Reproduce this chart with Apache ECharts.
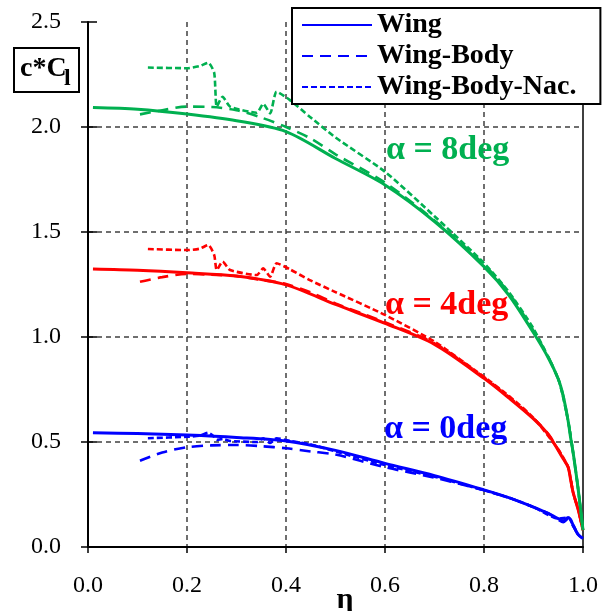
<!DOCTYPE html>
<html>
<head>
<meta charset="utf-8">
<style>
  html, body { margin: 0; padding: 0; background: #fff; }
  #chart { width: 610px; height: 611px; }
</style>
<script src="https://cdn.jsdelivr.net/npm/echarts@6.0.0/dist/echarts.min.js"></script>
</head>
<body>
<div id="chart"></div>
<script>
// spanwise station (eta) and c*Cl

// Wing (solid)
const etaWing = [0.01, 0.1, 0.2, 0.3, 0.4, 0.5, 0.6, 0.7, 0.8, 0.85, 0.9, 0.93, 0.95, 0.96, 0.97, 0.975, 0.98, 0.99, 1.0];
const wing0 = [0.544, 0.54, 0.533, 0.522, 0.505, 0.46, 0.398, 0.34, 0.272, 0.235, 0.19, 0.16, 0.135, 0.125, 0.14, 0.13, 0.105, 0.06, 0.04];
const wing4 = [1.324, 1.318, 1.306, 1.29, 1.248, 1.155, 1.065, 0.965, 0.803, 0.71, 0.61, 0.535, 0.46, 0.42, 0.38, 0.32, 0.26, 0.18, 0.08];
const wing8 = [2.093, 2.085, 2.062, 2.03, 1.978, 1.85, 1.724, 1.55, 1.335, 1.20, 1.02, 0.90, 0.80, 0.72, 0.60, 0.52, 0.45, 0.28, 0.08];

// Wing-Body (long dash)
const etaBody = [0.105, 0.15, 0.2, 0.25, 0.3, 0.35, 0.4, 0.45, 0.5, 0.6, 0.7, 0.8, 0.85, 0.9, 0.93, 0.95, 0.96, 0.97, 0.98, 0.99, 1.0];
const body0 = [0.411, 0.45, 0.475, 0.484, 0.486, 0.48, 0.47, 0.455, 0.44, 0.38, 0.33, 0.27, 0.235, 0.19, 0.16, 0.13, 0.118, 0.135, 0.10, 0.06, 0.04];
const body4 = [1.263, 1.285, 1.30, 1.297, 1.29, 1.272, 1.252, 1.212, 1.16, 1.07, 0.97, 0.808, 0.715, 0.613, 0.538, 0.463, 0.42, 0.38, 0.26, 0.18, 0.08];
const body8 = [2.06, 2.08, 2.097, 2.095, 2.08, 2.045, 2.0, 1.945, 1.87, 1.735, 1.555, 1.345, 1.21, 1.03, 0.905, 0.80, 0.72, 0.60, 0.45, 0.28, 0.08];

// Wing-Body-Nac. (short dash)
const etaNac = [0.121, 0.2, 0.225, 0.243, 0.255, 0.26, 0.272, 0.287, 0.341, 0.354, 0.368, 0.381, 0.408, 0.448, 0.5, 0.6, 0.7, 0.8, 0.85, 0.9, 0.95, 0.97, 0.98, 0.99, 1.0];
const nac0 = [0.518, 0.525, 0.53, 0.544, 0.525, 0.51, 0.515, 0.505, 0.50, 0.518, 0.495, 0.518, 0.505, 0.49, 0.455, 0.39, 0.335, 0.27, 0.235, 0.19, 0.135, 0.14, 0.105, 0.06, 0.04];
const nac4 = [1.419, 1.414, 1.42, 1.438, 1.39, 1.319, 1.359, 1.319, 1.295, 1.327, 1.287, 1.351, 1.322, 1.271, 1.214, 1.105, 0.978, 0.81, 0.72, 0.615, 0.465, 0.38, 0.26, 0.18, 0.08];
const nac8 = [2.283, 2.28, 2.29, 2.306, 2.257, 2.097, 2.144, 2.097, 2.068, 2.11, 2.065, 2.168, 2.128, 2.049, 1.95, 1.787, 1.575, 1.352, 1.215, 1.04, 0.80, 0.60, 0.45, 0.28, 0.08];

const legendNames = ['Wing', 'Wing-Body', 'Wing-Body-Nac.'];

const BLUE = '#0000FF', RED = '#FF0000', GREEN = '#00B050';
const FONT = 'Liberation Serif';
const LONG_DASH = [11, 7];
const SHORT_DASH = [6, 3];

function pairs(xs, ys) {
    return xs.map((x, i) => [x, ys[i]]);
}

function curve(name, xs, ys, color, type, smooth) {
    return {
        name: name,
        type: 'line',
        data: pairs(xs, ys),
        symbol: 'none',
        smooth: smooth,
        lineStyle: { color: color, width: type === 'solid' ? 3 : 2.6, type: type },
        itemStyle: { color: color },
        z: 3
    };
}

const chart = echarts.init(document.getElementById('chart'), null, { renderer: 'canvas' });

chart.setOption({
    backgroundColor: '#fff',
    animation: false,
    grid: { left: 88, right: 27, top: 22, bottom: 64 },
    legend: {
        data: legendNames,
        orient: 'vertical',
        left: 292, top: 8,
        itemWidth: 70, itemHeight: 14, itemGap: 3,
        padding: [3, 24, 3, 9],
        borderColor: '#000', borderWidth: 2,
        backgroundColor: '#fff',
        selectedMode: false,
        itemStyle: { opacity: 0 },
        textStyle: { fontFamily: FONT, fontWeight: 'bold', fontSize: 28, color: '#000' },
        z: 10
    },
    xAxis: [{
        type: 'value', min: 0, max: 1, interval: 0.2,
        axisLine: { lineStyle: { color: '#000', width: 2 } },
        axisTick: { show: true, length: 6, lineStyle: { color: '#000', width: 1.5 } },
        axisLabel: {
            margin: 27, color: '#000', fontFamily: FONT, fontSize: 24,
            formatter: v => v.toFixed(1)
        },
        splitLine: { show: true, showMinLine: false, showMaxLine: false, lineStyle: { color: '#404040', width: 1.5, type: [5, 4] } }
    }],
    yAxis: [{
        type: 'value', min: 0, max: 2.5, interval: 0.5,
        axisLine: { show: true, lineStyle: { color: '#000', width: 2 } },
        axisTick: { show: true, length: 7, lineStyle: { color: '#000', width: 1.5 } },
        axisLabel: {
            margin: 27, color: '#000', fontFamily: FONT, fontSize: 24,
            formatter: v => v.toFixed(1)
        },
        splitLine: { show: true, showMinLine: false, showMaxLine: false, lineStyle: { color: '#404040', width: 1.5, type: [5, 4] } }
    }, {
        // inner half of the crossing ticks
        type: 'value', min: 0, max: 2.5, interval: 0.5, position: 'left',
        axisLine: { show: false },
        axisTick: { show: true, inside: true, length: 9, lineStyle: { color: '#000', width: 1.5 } },
        axisLabel: { show: false },
        splitLine: { show: false }
    }, {
        // solid frame line at eta = 1
        type: 'value', min: 0, max: 2.5, interval: 0.5, position: 'right',
        axisLine: { show: true, lineStyle: { color: '#000', width: 1.5 } },
        axisTick: { show: false },
        axisLabel: { show: false },
        splitLine: { show: false }
    }],
    series: [
        curve('Wing', etaWing, wing0, BLUE, 'solid', 0.3),
        curve('Wing-Body', etaBody, body0, BLUE, LONG_DASH, 0.3),
        curve('Wing-Body-Nac.', etaNac, nac0, BLUE, SHORT_DASH, 0.2),
        curve('Wing a4', etaWing, wing4, RED, 'solid', 0.3),
        curve('Wing-Body a4', etaBody, body4, RED, LONG_DASH, 0.3),
        curve('Wing-Body-Nac. a4', etaNac, nac4, RED, SHORT_DASH, 0.2),
        curve('Wing a8', etaWing, wing8, GREEN, 'solid', 0.3),
        curve('Wing-Body a8', etaBody, body8, GREEN, LONG_DASH, 0.3),
        curve('Wing-Body-Nac. a8', etaNac, nac8, GREEN, SHORT_DASH, 0.2)
    ],
    graphic: [
        {
            type: 'rect', left: 13, top: 47, z: 20,
            shape: { width: 65, height: 44 },
            style: { fill: '#fff', stroke: '#000', lineWidth: 2 }
        },
        {
            type: 'text', x: 20, y: 69, z: 21,
            style: { text: 'c*C', font: 'bold 28px "Liberation Serif"', fill: '#000', textVerticalAlign: 'middle', verticalAlign: 'middle' }
        },
        {
            type: 'text', x: 64, y: 79, z: 21,
            style: { text: 'l', font: 'bold 24px "Liberation Serif"', fill: '#000', textVerticalAlign: 'middle', verticalAlign: 'middle' }
        },
        {
            type: 'text', x: 386, y: 150, z: 20,
            style: { text: 'α = 8deg', font: 'bold 34px "Liberation Serif"', fill: GREEN, textVerticalAlign: 'middle', verticalAlign: 'middle' }
        },
        {
            type: 'text', x: 385, y: 305, z: 20,
            style: { text: 'α = 4deg', font: 'bold 34px "Liberation Serif"', fill: RED, textVerticalAlign: 'middle', verticalAlign: 'middle' }
        },
        {
            type: 'text', x: 384, y: 429, z: 20,
            style: { text: 'α = 0deg', font: 'bold 34px "Liberation Serif"', fill: BLUE, textVerticalAlign: 'middle', verticalAlign: 'middle' }
        },
        {
            type: 'text', x: 345, y: 600, z: 20,
            style: { text: 'η', font: 'bold 30px "Liberation Serif"', fill: '#000', textAlign: 'center', align: 'center', textVerticalAlign: 'middle', verticalAlign: 'middle' }
        }
    ]
});
</script>
</body>
</html>
